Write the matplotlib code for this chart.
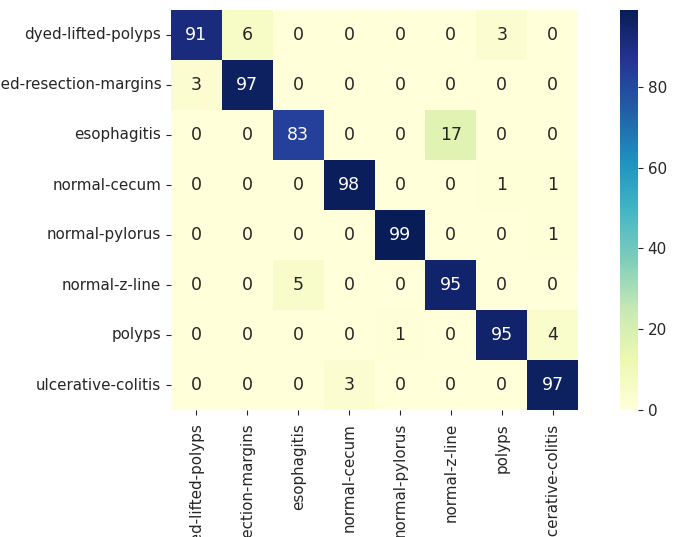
import numpy as np
import matplotlib
matplotlib.use('Agg')
from matplotlib import pyplot as plt
import seaborn as sns

classes = ['dyed-lifted-polyps', 'dyed-resection-margins', 'esophagitis',
           'normal-cecum', 'normal-pylorus', 'normal-z-line', 'polyps',
           'ulcerative-colitis']

row_dyed_lifted = [91, 6, 0, 0, 0, 0, 3, 0]
row_dyed_resection = [3, 97, 0, 0, 0, 0, 0, 0]
row_esophagitis = [0, 0, 83, 0, 0, 17, 0, 0]
row_cecum = [0, 0, 0, 98, 0, 0, 1, 1]
row_pylorus = [0, 0, 0, 0, 99, 0, 0, 1]
row_zline = [0, 0, 5, 0, 0, 95, 0, 0]
row_polyps = [0, 0, 0, 0, 1, 0, 95, 4]
row_colitis = [0, 0, 0, 3, 0, 0, 0, 97]

cm = np.array([row_dyed_lifted, row_dyed_resection, row_esophagitis, row_cecum,
               row_pylorus, row_zline, row_polyps, row_colitis])

W, H = 680, 537
fig = plt.figure(figsize=(W / 100, H / 100), dpi=100)
ax = fig.add_axes([171 / W, (H - 410) / H, 407 / W, 400 / H])
cax = fig.add_axes([620 / W, (H - 410) / H, 18 / W, 400 / H])

sns.heatmap(cm, annot=True, fmt='d', cmap='YlGnBu', ax=ax, cbar_ax=cax,
            xticklabels=classes, yticklabels=classes,
            annot_kws={'size': 12.5})
ax.set_xticklabels(classes, rotation=90, fontsize=10.9, color='#262626')
ax.set_yticklabels(classes, rotation=0, fontsize=10.9, color='#262626')
ax.tick_params(colors='#262626')
ax.tick_params(axis='x', pad=6)
cax.tick_params(labelsize=10.9, colors='#262626')
cax.set_yticks([0, 20, 40, 60, 80])

plt.savefig('out.png', dpi=100)
plt.close(fig)
